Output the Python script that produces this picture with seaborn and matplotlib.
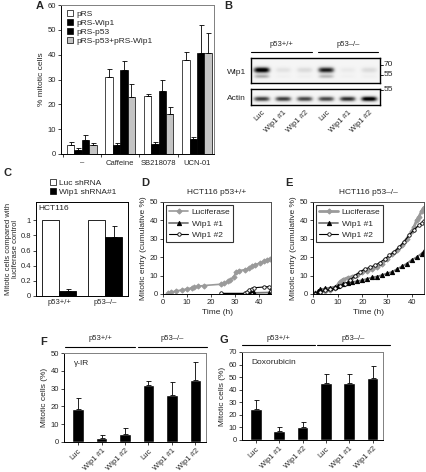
import numpy as np
import pandas as pd
import matplotlib
matplotlib.use("Agg")
import matplotlib.pyplot as plt
import seaborn as sns
from matplotlib.patches import Patch
from matplotlib.lines import Line2D

# ---------------- data ----------------
a_treatments = ["\u2013", "Caffeine", "SB218078", "UCN-01"]
a_constructs = ["pRS", "pRS-Wip1", "pRS-p53", "pRS-p53+pRS-Wip1"]
a_prs = [3.5, 31.0, 23.2, 38.0]
a_prs_err = [1.5, 3.2, 1.0, 2.9]
a_prs_wip1 = [1.5, 3.8, 4.0, 6.0]
a_prs_wip1_err = [1.1, 0.5, 1.0, 1.0]
a_prs_p53 = [5.6, 34.0, 25.2, 40.5]
a_prs_p53_err = [2.1, 3.6, 4.7, 11.5]
a_prs_p53_wip1 = [3.5, 22.9, 16.0, 40.5]
a_prs_p53_wip1_err = [1.1, 5.4, 2.8, 8.1]

b_lanes = ["Luc", "Wip1 #1", "Wip1 #2", "Luc", "Wip1 #1", "Wip1 #2"]
b_wip1_band = [1.0, 0.12, 0.16, 0.85, 0.08, 0.16]
b_wip1_lower = [0.35, 0.04, 0.05, 0.30, 0.04, 0.05]
b_actin_band = [0.75, 0.75, 0.72, 0.72, 0.8, 1.0]

c_lines = ["p53+/+", "p53\u2013/\u2013"]
c_shrna = ["Luc shRNA", "Wip1 shRNA#1"]
c_luc = [1.0, 1.0]
c_wip1 = [0.06, 0.78]
c_wip1_err = [0.035, 0.15]

d_luc_x = [2, 3.5, 5.5, 8, 10, 12, 13, 14.5, 17, 24, 25.5, 27, 28, 29.5, 30.5, 31.5, 34, 36, 37, 38.5, 40.5, 42, 43.5, 44.5]
d_luc_y = [0.4, 1, 1.7, 2.2, 2.8, 3.3, 3.9, 4.2, 4.6, 5.3, 5.9, 6.8, 7.7, 9.5, 11.9, 12.7, 13.2, 14.1, 15, 16, 16.9, 17.8, 18.7, 19]
d_w1_x = [24, 34, 35, 36, 37, 38, 44, 45]
d_w1_y = [0.2, 0.2, 0.5, 1.0, 2.0, 0.6, 0.8, 1.8]
d_w2_x = [24, 34, 35, 36, 37, 38, 42, 44, 45]
d_w2_y = [0.3, 0.3, 1.0, 2.2, 2.8, 3.4, 3.8, 4.0, 1.5]

e_luc_x = [1, 3, 5, 7, 9, 10, 11, 12, 14, 16, 18, 20, 22, 24, 26, 28, 30, 32, 34, 36, 38, 40, 41, 42, 43, 44, 45]
e_luc_y = [0.3, 1, 1.5, 2, 3.5, 5, 6.5, 7.8, 8.8, 9.5, 10.5, 12, 12.5, 13.5, 14.5, 16.5, 19, 21.5, 24, 26.5, 30, 34, 36.5, 40, 42, 45, 47]
e_w1_x = [1, 2, 3, 5, 7, 9, 10, 12, 14, 16, 18, 20, 22, 24, 26, 28, 30, 32, 34, 36, 38, 40, 42, 44, 45]
e_w1_y = [0.5, 1.5, 2.5, 3, 3.5, 4, 4.5, 5.5, 6, 6.5, 7, 7.5, 8.3, 9, 9.5, 10.3, 11.2, 12, 13.5, 15, 16.5, 18.5, 20, 22, 23.3]
e_w2_x = [1, 3, 5, 7, 9, 11, 13, 15, 17, 19, 21, 23, 25, 27, 29, 31, 33, 35, 37, 39, 41, 43, 44, 45]
e_w2_y = [0.2, 1, 2, 2.5, 3.5, 4.6, 5.5, 7.5, 10, 12, 13.5, 14.5, 15.5, 17, 19, 21, 23, 25.5, 28.5, 32, 35, 37.5, 38.5, 39.5]

fg_labels = ["Luc", "Wip1 #1", "Wip1 #2", "Luc", "Wip1 #1", "Wip1 #2"]
f_vals = [18.7, 2.4, 4.7, 31.8, 26.2, 34.6]
f_errs = [6.0, 1.5, 3.0, 2.7, 7.5, 10.4]
g_vals = [25.0, 7.5, 10.5, 45.5, 45.5, 49.0]
g_errs = [6.5, 2.7, 4.0, 6.8, 6.8, 9.5]

# ---------------- style ----------------
sns.set_style("ticks")
plt.rcParams["font.family"] = ["Liberation Sans", "DejaVu Sans"]
plt.rcParams["font.size"] = 6
plt.rcParams["axes.linewidth"] = 0.7

W, H = 426, 472
fig = plt.figure(figsize=(W / 100, H / 100), dpi=100)


def box(l, t, r, b):
    return fig.add_axes([l / W, 1 - b / H, (r - l) / W, (b - t) / H])


def ftext(x, y, s, **kw):
    kw.setdefault("fontsize", 6)
    fig.text(x / W, 1 - y / H, s, **kw)


def fline(x0, x1, y, lw=0.8):
    fig.add_artist(Line2D([x0 / W, x1 / W], [1 - y / H, 1 - y / H], color="black", lw=lw))


def letter(x, y, s):
    ftext(x, y, s, fontsize=8, fontweight="bold", ha="left", va="center")


def style_ax(ax, top_right="#808080"):
    for s in ["left", "bottom"]:
        ax.spines[s].set_color("black")
        ax.spines[s].set_linewidth(0.7)
    for s in ["top", "right"]:
        ax.spines[s].set_visible(True)
        ax.spines[s].set_color(top_right)
        ax.spines[s].set_linewidth(0.7)
    ax.tick_params(labelsize=5.5, length=2, width=0.6, pad=1.5, direction="out")


def up_err(ax, xs, ys, errs, color="black"):
    ax.errorbar(xs, ys, yerr=[np.zeros(len(errs)), errs], fmt="none", ecolor=color,
                elinewidth=0.6, capsize=1.8, capthick=0.6)


# ---------------- Panel A ----------------
axA = box(61, 5, 214, 154)
dfA = pd.DataFrame({
    "treatment": a_treatments * 4,
    "construct": sum([[c] * 4 for c in a_constructs], []),
    "value": a_prs + a_prs_wip1 + a_prs_p53 + a_prs_p53_wip1,
})
palA = dict(zip(a_constructs, ["white", "black", "black", "#c4c4c4"]))
sns.barplot(data=dfA, x="treatment", y="value", hue="construct", order=a_treatments,
            hue_order=a_constructs, palette=palA, width=0.77, edgecolor="black",
            linewidth=0.5, errorbar=None, legend=False, saturation=1, ax=axA)
for cont, err in zip(axA.containers, [a_prs_err, a_prs_wip1_err, a_prs_p53_err, a_prs_p53_wip1_err]):
    xs = [p.get_x() + p.get_width() / 2 for p in cont]
    hs = [p.get_height() for p in cont]
    up_err(axA, xs, hs, err)
style_ax(axA)
axA.set_xlim(-0.54, 3.44)
axA.set_ylim(0, 60)
axA.set_yticks(range(0, 61, 10))
axA.set_xticks(range(4))
axA.set_xticklabels(a_treatments, fontsize=5.5)
axA.tick_params(axis="x", length=0, pad=4)
axA.set_xticks([-0.5, 0.5, 1.5, 2.5], minor=True)
axA.tick_params(axis="x", which="minor", length=2.5, width=0.6)
axA.set_xlabel("")
axA.set_ylabel("% mitotic cells", fontsize=6, labelpad=2)
hA = [Patch(facecolor=palA[c], edgecolor="black", linewidth=0.5) for c in a_constructs]
axA.legend(hA, a_constructs, loc="upper left", bbox_to_anchor=(67 / W, 1 - 10 / H),
           bbox_transform=fig.transFigure, frameon=False, fontsize=6, handlelength=0.7,
           handleheight=0.7, handletextpad=0.4, labelspacing=0.15, borderpad=0, borderaxespad=0)
letter(36, 6, "A")

# ---------------- Panel B (blot) ----------------
letter(224, 6, "B")
ftext(281, 45, "p53+/+", ha="center", va="center", fontsize=5.5)
ftext(348, 45, "p53\u2013/\u2013", ha="center", va="center", fontsize=5.5)
fline(251, 312, 52)
fline(318, 378, 52)


def blot(ax, amps, ypos, ysig, amps2=None, ypos2=None, ysig2=None, bg=0.08):
    nx, ny = 600, 80
    xs = np.linspace(-0.5, 5.5, nx)
    ys = np.linspace(0, 1, ny)
    img = np.full((ny, nx), bg)
    for i, a in enumerate(amps):
        px = np.exp(-np.abs((xs - i) / 0.38) ** 4)
        py = np.exp(-((ys - ypos) / ysig) ** 2)
        img += a * np.outer(py, px)
    if amps2 is not None:
        for i, a in enumerate(amps2):
            px = np.exp(-np.abs((xs - i) / 0.36) ** 4)
            py = np.exp(-((ys - ypos2) / ysig2) ** 2)
            img += a * np.outer(py, px)
    ax.imshow(np.clip(img, 0, 1), cmap="Greys", vmin=0, vmax=1, aspect="auto",
              extent=[-0.5, 5.5, 1, 0], interpolation="bilinear")
    ax.set_xlim(-0.5, 5.5)
    ax.set_ylim(1, 0)
    ax.set_yticks([])
    for s in ax.spines.values():
        s.set_visible(True)
        s.set_color("black")
        s.set_linewidth(1.0)


axB1 = box(251, 58, 380, 83)
blot(axB1, b_wip1_band, 0.48, 0.12, b_wip1_lower, 0.74, 0.08)
axB1.set_xticks([])
axB2 = box(251, 89, 380, 105)
blot(axB2, b_actin_band, 0.62, 0.16)
axB2.set_xticks(range(6))
axB2.set_xticklabels(b_lanes, rotation=45, ha="right", rotation_mode="anchor", fontsize=5.5)
axB2.tick_params(axis="x", length=0, pad=3)
ftext(246, 73, "Wip1", ha="right", va="center", fontsize=6)
ftext(246, 98, "Actin", ha="right", va="center", fontsize=6)
for yy, lab in [(65, "70"), (75, "55"), (90, "55")]:
    fline(380, 383, yy, lw=0.6)
    ftext(384, yy, lab, ha="left", va="center", fontsize=6)

# ---------------- Panel C ----------------
axC = box(36, 202, 128, 296)
dfC = pd.DataFrame({"line": c_lines * 2, "shrna": [c_shrna[0]] * 2 + [c_shrna[1]] * 2,
                    "value": c_luc + c_wip1})
palC = {c_shrna[0]: "white", c_shrna[1]: "black"}
sns.barplot(data=dfC, x="line", y="value", hue="shrna", order=c_lines, hue_order=c_shrna,
            palette=palC, width=0.75, edgecolor="black", linewidth=0.6, errorbar=None,
            legend=False, saturation=1, ax=axC)
cont = axC.containers[1]
up_err(axC, [p.get_x() + p.get_width() / 2 for p in cont], [p.get_height() for p in cont], c_wip1_err)
style_ax(axC, top_right="black")
axC.set_xlim(-0.5, 1.5)
axC.set_ylim(0, 1.24)
axC.set_yticks([0, 0.2, 0.4, 0.6, 0.8, 1.0])
axC.set_yticklabels(["0", "0.2", "0.4", "0.6", "0.8", "1"])
axC.tick_params(axis="x", length=0, pad=2)
axC.set_xlabel("")
axC.set_ylabel("Mitotic cells compared with\nluciferase control", fontsize=5.5, labelpad=1,
               linespacing=1.0)
axC.text(0.03, 0.93, "HCT116", transform=axC.transAxes, fontsize=6, ha="left", va="center")
hC = [Patch(facecolor=palC[c], edgecolor="black", linewidth=0.5) for c in c_shrna]
axC.legend(hC, c_shrna, loc="upper left", bbox_to_anchor=(50 / W, 1 - 179 / H),
           bbox_transform=fig.transFigure, frameon=False, fontsize=6, handlelength=0.7,
           handleheight=0.7, handletextpad=0.4, labelspacing=0.15, borderpad=0, borderaxespad=0)
letter(4, 173, "C")


# ---------------- Panels D and E ----------------
def timecourse(ax, lx, ly, w1x, w1y, w2x, w2y, luc_lw, title):
    sns.lineplot(x=lx, y=ly, ax=ax, sort=False, estimator=None, color="#9a9a9a", lw=luc_lw,
                 marker="D", markersize=2.6, markerfacecolor="#9a9a9a", markeredgecolor="#9a9a9a",
                 label="Luciferase")
    sns.lineplot(x=w1x, y=w1y, ax=ax, sort=False, estimator=None, color="#7a7a7a", lw=1.3,
                 marker="^", markersize=3, markerfacecolor="black", markeredgecolor="black",
                 label="Wip1 #1")
    sns.lineplot(x=w2x, y=w2y, ax=ax, sort=False, estimator=None, color="black", lw=0.8,
                 marker="o", markersize=2.5, markerfacecolor="white", markeredgecolor="black",
                 markeredgewidth=0.6, label="Wip1 #2")
    style_ax(ax, top_right="#505050")
    ax.set_xlim(0, 45)
    ax.set_ylim(0, 50)
    ax.set_xticks(range(0, 41, 10))
    ax.set_yticks(range(0, 51, 10))
    ax.set_xlabel("Time (h)", fontsize=6, labelpad=2)
    ax.set_ylabel("Mitotic entry (cumulative %)", fontsize=6, labelpad=2)
    leg = ax.legend(loc="upper left", bbox_to_anchor=(0.03, 0.965), fontsize=6, frameon=True,
                    fancybox=False, edgecolor="black", handlelength=2.3, handletextpad=0.4,
                    labelspacing=0.45, borderpad=0.35, borderaxespad=0)
    leg.get_frame().set_linewidth(0.8)
    ax.set_title(title, fontsize=6, pad=6)


axD = box(163, 202, 271, 294)
timecourse(axD, d_luc_x, d_luc_y, d_w1_x, d_w1_y, d_w2_x, d_w2_y, 1.2, "HCT116 p53+/+")
letter(141, 183, "D")

axE = box(313, 202, 424, 294)
timecourse(axE, e_luc_x, e_luc_y, e_w1_x, e_w1_y, e_w2_x, e_w2_y, 2.0, "HCT116 p53\u2013/\u2013")
letter(285, 183, "E")


# ---------------- Panels F and G ----------------
def mitotic_bars(ax, vals, errs, ylim, step, note):
    sns.barplot(x=list(range(6)), y=vals, ax=ax, color="black", width=0.5, errorbar=None,
                saturation=1)
    up_err(ax, list(range(6)), vals, errs)
    style_ax(ax)
    ax.set_xlim(-0.6, 5.45)
    ax.set_ylim(0, ylim)
    ax.set_yticks(range(0, ylim + 1, step))
    ax.set_xticks(range(6))
    ax.set_xticklabels(fg_labels, rotation=45, ha="right", rotation_mode="anchor", fontsize=5.5)
    ax.tick_params(axis="x", length=2, pad=2)
    ax.set_ylabel("Mitotic cells (%)", fontsize=6, labelpad=2)
    ax.text(0.07, 0.88, note, transform=ax.transAxes, fontsize=6, ha="left", va="center")


axF = box(64, 353, 206, 442)
mitotic_bars(axF, f_vals, f_errs, 50, 10, "\u03b3-IR")
letter(40, 342, "F")
fline(65, 135, 347)
fline(138, 207, 347)
ftext(100, 339, "p53+/+", ha="center", va="center", fontsize=5.5)
ftext(172, 339, "p53\u2013/\u2013", ha="center", va="center", fontsize=5.5)

axG = box(242, 352, 383, 440)
mitotic_bars(axG, g_vals, g_errs, 70, 10, "Doxorubicin")
letter(220, 340, "G")
fline(242, 315, 345)
fline(317, 390, 345)
ftext(278, 338, "p53+/+", ha="center", va="center", fontsize=5.5)
ftext(353, 338, "p53\u2013/\u2013", ha="center", va="center", fontsize=5.5)

fig.savefig("out.png", dpi=100)
